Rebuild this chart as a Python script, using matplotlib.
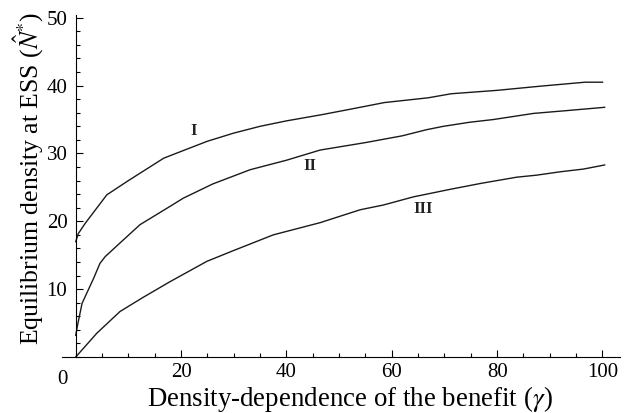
import numpy as np
import matplotlib.pyplot as plt
from matplotlib.ticker import MultipleLocator

plt.rcParams['font.family'] = 'Liberation Serif'
plt.rcParams['mathtext.fontset'] = 'stix'

# curva I
gI_x = [0, 0.5, 1.8, 5.9, 10, 16.7, 20, 25, 30, 35, 40, 46.6, 52, 58.6, 66.9, 71.3, 80, 88, 96.7, 100]
gI_y = [17.0, 18.2, 19.7, 23.9, 26.0, 29.3, 30.3, 31.8, 33.0, 34.0, 34.8, 35.7, 36.5, 37.5, 38.2, 38.8, 39.3, 39.9, 40.5, 40.5]

# curva II
gII_x = [0, 0.3, 1.2, 3.4, 4.6, 5.6, 8.4, 12.2, 17.9, 20.4, 26, 33.1, 40, 46.4, 55, 62, 66.6, 69.8, 74.8, 79.3, 86.9, 93, 100.4]
gII_y = [3.2, 4.5, 7.9, 11.6, 13.8, 14.8, 16.8, 19.5, 22.2, 23.4, 25.5, 27.6, 29.0, 30.5, 31.6, 32.6, 33.5, 34.0, 34.6, 35.0, 35.9, 36.3, 36.8]

# curva III
gIII_x = [0, 4, 8.4, 12.6, 17.9, 24.9, 30, 37.5, 46.4, 54, 58.4, 64.1, 71, 77, 83.7, 87.5, 92, 96.4, 100.4]
gIII_y = [0, 3.5, 6.7, 8.7, 11.1, 14.1, 15.7, 18.0, 19.8, 21.7, 22.4, 23.6, 24.7, 25.6, 26.5, 26.8, 27.3, 27.7, 28.3]

etiquetas = ['I', 'II', 'III']
etq_x = [22.3, 44.5, 66.0]
etq_y = [33.3, 28.2, 21.8]

fig = plt.figure(figsize=(6.24, 4.13), dpi=100)
ax = fig.add_axes([0.0994, 0.1356, 0.894, 0.828])

for xs, ys in [(gI_x, gI_y), (gII_x, gII_y), (gIII_x, gIII_y)]:
    ax.plot(xs, ys, color='#1a1a1a', lw=1.0)

for s, x, y in zip(etiquetas, etq_x, etq_y):
    ax.text(x, y, s, fontsize=12, fontweight='bold', ha='center', va='center', color='#222222')

ax.set_xlim(-2.6, 103.3)
ax.set_ylim(0, 50.4)
ax.spines['left'].set_position(('data', 0))
ax.spines['right'].set_visible(False)
ax.spines['top'].set_visible(False)

ax.set_xticks([20, 40, 60, 80, 100])
ax.set_yticks([10, 20, 30, 40, 50])
ax.xaxis.set_minor_locator(MultipleLocator(5))
ax.yaxis.set_minor_locator(MultipleLocator(2))
ax.tick_params(which='both', direction='in', labelsize=15, width=0.8)
ax.tick_params(which='major', length=5)
ax.tick_params(which='minor', length=3)
ax.tick_params(axis='y', pad=6)
ax.tick_params(axis='x', pad=4)
ax.text(-2.6, -1.9, '0', fontsize=15, ha='center', va='top')

ax.set_xlabel(r'Density-dependence of the benefit ($\gamma$)', fontsize=19.4)
ax.set_ylabel(r'Equilibrium density at ESS ($\hat{N}^{*}$)', fontsize=18.5)
ax.xaxis.set_label_coords(0.516, -0.078)
ax.yaxis.set_label_coords(-0.028, 0.523)

plt.savefig('out.png', dpi=100)
